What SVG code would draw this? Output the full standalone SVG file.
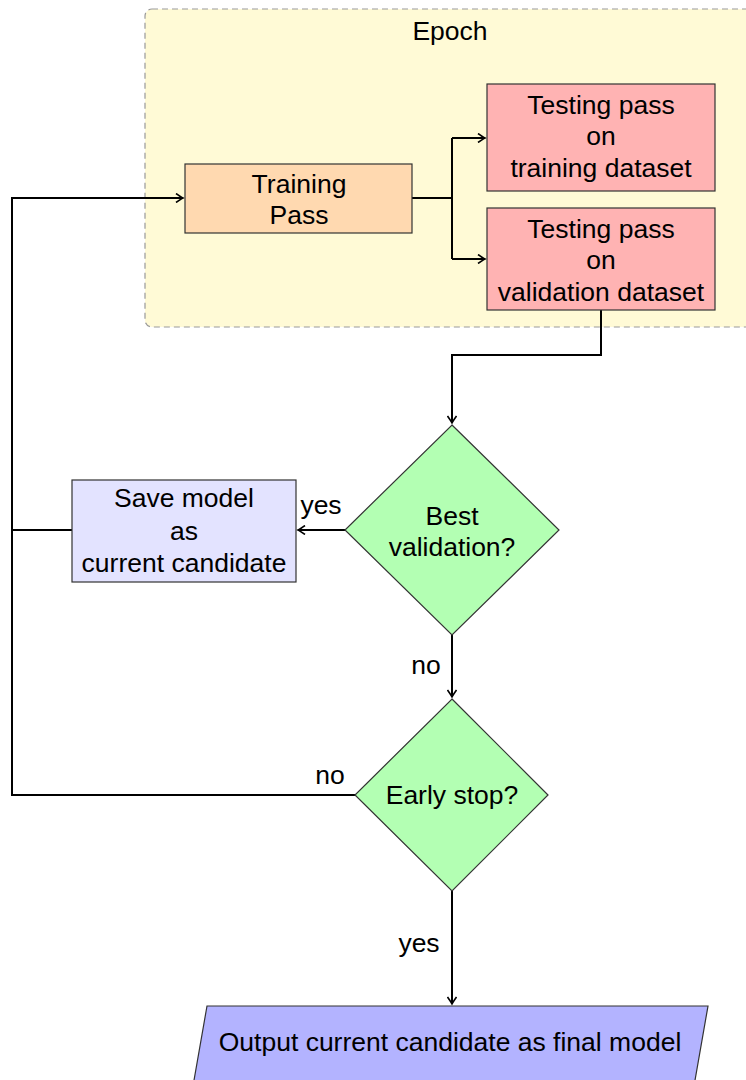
<svg xmlns="http://www.w3.org/2000/svg" width="746" height="1080" viewBox="0 0 746 1080">
<style>
text{font-family:"Liberation Sans",Arial,sans-serif;font-size:26.5px;fill:#000;text-anchor:middle}
.box{stroke:#333;stroke-width:1.2}
.edge{fill:none;stroke:#000;stroke-width:2}
</style>
<defs>
<marker id="arr" viewBox="-8 -5 10 10" refX="0" refY="0" markerWidth="10" markerHeight="10" markerUnits="userSpaceOnUse" orient="auto">
<path d="M-7,-4.5 Q-2,-1 0,0 Q-2,1 -7,4.5" fill="none" stroke="#000" stroke-width="1.6"/>
</marker>
</defs>
<rect width="746" height="1080" fill="#fff"/>
<g id="epoch">
<rect x="145" y="9" width="620" height="318" rx="7" fill="#fffad6" stroke="#999" stroke-width="1.2" stroke-dasharray="6,4"/>
<text x="450" y="40">Epoch</text>
</g>
<g id="connectors">
<path class="edge" d="M412,198 H452" stroke-width="3"/>
<path class="edge" d="M452,138 V259"/>
<path class="edge" d="M452,138 H485" marker-end="url(#arr)"/>
<path class="edge" d="M452,259 H485" marker-end="url(#arr)"/>
<path class="edge" d="M601,310 V355 H452 V423" marker-end="url(#arr)"/>
<path class="edge" d="M345,530 H298" marker-end="url(#arr)"/>
<path class="edge" d="M452,635 V697" marker-end="url(#arr)"/>
<path class="edge" d="M452,891 V1004" marker-end="url(#arr)"/>
<path class="edge" d="M72,530 H12"/>
<path class="edge" d="M355,795 H12 V198 H183" marker-end="url(#arr)"/>
<text x="321" y="514">yes</text>
<text x="426" y="674">no</text>
<text x="330" y="784">no</text>
<text x="419" y="952">yes</text>
</g>
<g id="training">
<rect class="box" x="185" y="164" width="227" height="69" fill="#ffd9b0"/>
<text x="299" y="193">Training</text>
<text x="299" y="224">Pass</text>
</g>
<g id="test-train">
<rect class="box" x="487" y="84" width="228" height="107" fill="#ffb3b3"/>
<text x="601" y="114">Testing pass</text>
<text x="601" y="145">on</text>
<text x="601" y="177">training dataset</text>
</g>
<g id="test-val">
<rect class="box" x="487" y="208" width="228" height="102" fill="#ffb3b3"/>
<text x="601" y="238">Testing pass</text>
<text x="601" y="269">on</text>
<text x="601" y="301">validation dataset</text>
</g>
<g id="best">
<polygon class="box" points="452,425 559,530 452,635 345,530" fill="#b3ffb3"/>
<text x="452" y="525">Best</text>
<text x="452" y="556">validation?</text>
</g>
<g id="save">
<rect class="box" x="72" y="480" width="224" height="102" fill="#e3e3ff"/>
<text x="184" y="507">Save model</text>
<text x="184" y="540">as</text>
<text x="184" y="572">current candidate</text>
</g>
<g id="early">
<polygon class="box" points="452,699 548,795 452,891 355,795" fill="#b3ffb3"/>
<text x="452" y="804">Early stop?</text>
</g>
<g id="output">
<polygon class="box" points="207,1006 708,1006 694,1086 193,1086" fill="#b3b3ff"/>
<text x="450" y="1051">Output current candidate as final model</text>
</g>
</svg>
